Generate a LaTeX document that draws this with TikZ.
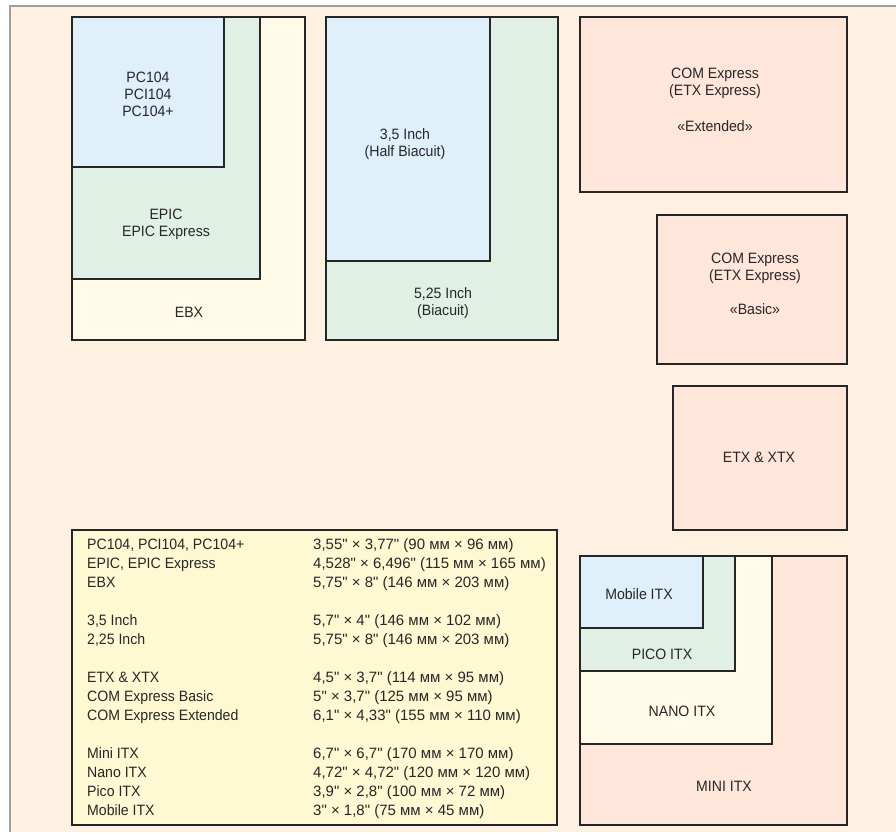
\documentclass[tikz,border=0pt]{standalone}
\usepackage{fontspec}
\setmainfont[FakeStretch=0.94]{Liberation Sans}
\newfontfamily\numfont[FakeStretch=1.0]{Liberation Sans}
\definecolor{bgcream}{HTML}{FEF1E2}
\definecolor{framegray}{HTML}{9E9E9E}
\definecolor{boxline}{HTML}{262626}
\definecolor{txt}{HTML}{262626}
\definecolor{cblue}{HTML}{DFF0FB}
\definecolor{cgreen}{HTML}{E1F0E5}
\definecolor{cyellow}{HTML}{FFFBE8}
\definecolor{cpink}{HTML}{FFE6DA}
\definecolor{ctable}{HTML}{FFF9D3}
\tikzset{
  boardbox/.style={draw=boxline, line width=2pt},
  lbl/.style={text=txt, font=\fontsize{15}{17}\selectfont, align=center, inner sep=0pt},
  row/.style={text=txt, font=\fontsize{15}{19}\selectfont, anchor=base west, inner sep=0pt},
  rownum/.style={text=txt, font=\numfont\fontsize{15}{19}\selectfont, anchor=base west, inner sep=0pt}
}
\begin{document}
\begin{tikzpicture}[x=1pt,y=-1pt]
\useasboundingbox (0,0) rectangle (896,832);
\fill[white] (0,0) rectangle (896,832);
\fill[bgcream] (10,6) rectangle (896,832);
\draw[framegray, line width=2.5pt] (10,832) -- (10,6) -- (896,6);

% EBX / EPIC / PC104
\draw[boardbox, fill=cyellow] (72,17) rectangle (305,340);
\draw[boardbox, fill=cgreen] (72,17) rectangle (260,279);
\draw[boardbox, fill=cblue] (72,17) rectangle (224,167);
\node[lbl] (pc104) at (148,94) {PC104\\PCI104\\PC104+};
\node[lbl] (epic) at (166,224) {EPIC\\EPIC Express};
\node[lbl] (ebx) at (189,312) {EBX};

% 5.25 / 3.5 inch
\draw[boardbox, fill=cgreen] (326,17) rectangle (558,340);
\draw[boardbox, fill=cblue] (326,17) rectangle (490,261);
\node[lbl] (half) at (405,144) {3,5 Inch\\(Half Biacuit)};
\node[lbl] (full) at (443,303) {5,25 Inch\\(Biacuit)};

% COM Express
\draw[boardbox, fill=cpink] (580,17) rectangle (847,192);
\node[lbl] (comext) at (715,100) {COM Express\\(ETX Express)\\[19pt]«Extended»};
\draw[boardbox, fill=cpink] (657,215) rectangle (847,364);
\node[lbl] (combas) at (755,284) {COM Express\\(ETX Express)\\[17pt]«Basic»};

% ETX
\draw[boardbox, fill=cpink] (673,386) rectangle (847,530);
\node[lbl] (etx) at (759,457) {ETX \& XTX};

% ITX
\draw[boardbox, fill=cpink] (580,556) rectangle (847,825);
\draw[boardbox, fill=cyellow] (580,556) rectangle (772,744);
\draw[boardbox, fill=cgreen] (580,556) rectangle (735,671);
\draw[boardbox, fill=cblue] (580,556) rectangle (703,628);
\node[lbl] (mobile) at (639,594) {Mobile ITX};
\node[lbl] (pico) at (662,654) {PICO ITX};
\node[lbl] (nano) at (682,711) {NANO ITX};
\node[lbl] (mini) at (724,786) {MINI ITX};

% Table
\draw[boxline, line width=2pt, fill=ctable] (72,530) rectangle (557,825);
\node[row] (a1) at (87,549.5) {PC104, PCI104, PC104+};
\node[row] (a2) at (87,568.5) {EPIC, EPIC Express};
\node[row] (a3) at (87,587.5) {EBX};
\node[row] (a4) at (87,625.5) {3,5 Inch};
\node[row] (a5) at (87,644.5) {2,25 Inch};
\node[row] (a6) at (87,682.5) {ETX \& XTX};
\node[row] (a7) at (87,701.5) {COM Express Basic};
\node[row] (a8) at (87,720.5) {COM Express Extended};
\node[row] (a9) at (87,758.5) {Mini ITX};
\node[row] (a10) at (87,777.5) {Nano ITX};
\node[row] (a11) at (87,796.5) {Pico ITX};
\node[row] (a12) at (87,815.5) {Mobile ITX};
\node[rownum] (b1) at (313,549.5) {3,55" × 3,77" (90 мм × 96 мм)};
\node[rownum] (b2) at (313,568.5) {4,528" × 6,496" (115 мм × 165 мм)};
\node[rownum] (b3) at (313,587.5) {5,75" × 8" (146 мм × 203 мм)};
\node[rownum] (b4) at (313,625.5) {5,7" × 4" (146 мм × 102 мм)};
\node[rownum] (b5) at (313,644.5) {5,75" × 8" (146 мм × 203 мм)};
\node[rownum] (b6) at (313,682.5) {4,5" × 3,7" (114 мм × 95 мм)};
\node[rownum] (b7) at (313,701.5) {5" × 3,7" (125 мм × 95 мм)};
\node[rownum] (b8) at (313,720.5) {6,1" × 4,33" (155 мм × 110 мм)};
\node[rownum] (b9) at (313,758.5) {6,7" × 6,7" (170 мм × 170 мм)};
\node[rownum] (b10) at (313,777.5) {4,72" × 4,72" (120 мм × 120 мм)};
\node[rownum] (b11) at (313,796.5) {3,9" × 2,8" (100 мм × 72 мм)};
\node[rownum] (b12) at (313,815.5) {3" × 1,8" (75 мм × 45 мм)};
\end{tikzpicture}
\end{document}
